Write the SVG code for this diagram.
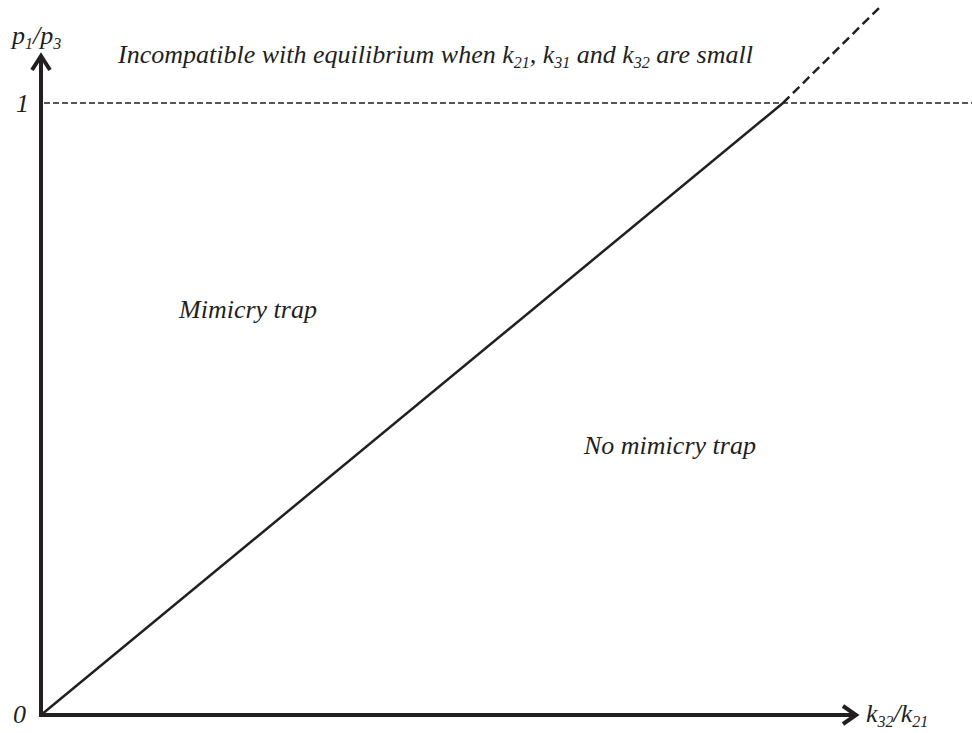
<svg xmlns="http://www.w3.org/2000/svg" width="972" height="733" viewBox="0 0 972 733">
<style>
text{font-family:"Liberation Serif","Times New Roman",serif;font-style:italic;fill:#231f20;font-size:26px}
.sub{font-size:16px}
.ax{stroke:#231f20;stroke-width:4;fill:none}
.ln{stroke:#231f20;stroke-width:2.5;fill:none}
.dash{stroke:#231f20;stroke-width:1.5;fill:none;stroke-dasharray:6 3}
.dash2{stroke:#231f20;stroke-width:2.5;fill:none;stroke-dasharray:9 5}
</style>
<rect width="972" height="733" fill="#fff"/>
<g id="connectors">
<line class="dash" x1="44" y1="103" x2="972" y2="103"/>
<line class="ln" x1="41" y1="715" x2="783" y2="103"/>
<line class="dash2" x1="783" y1="103" x2="880" y2="7"/>
</g>
<g id="y-axis">
<line class="ax" x1="41" y1="717" x2="41" y2="57"/>
<polyline class="ax" points="32,70 41,56 50,70"/>
<text x="12" y="44">p<tspan class="sub" dy="5">1</tspan><tspan dy="-5">/p</tspan><tspan class="sub" dy="5">3</tspan></text>
<text x="16" y="112">1</text>
<text x="13" y="723">0</text>
</g>
<g id="x-axis">
<line class="ax" x1="39" y1="715" x2="855" y2="715"/>
<polyline class="ax" points="843,706 856,715 843,724"/>
<text x="866" y="722">k<tspan class="sub" dy="5">32</tspan><tspan dy="-5">/k</tspan><tspan class="sub" dy="5">21</tspan></text>
</g>
<g id="label-top">
<text x="118" y="63">Incompatible with equilibrium when k<tspan class="sub" dy="5">21</tspan><tspan dy="-5">, k</tspan><tspan class="sub" dy="5">31</tspan><tspan dy="-5"> and k</tspan><tspan class="sub" dy="5">32</tspan><tspan dy="-5"> are small</tspan></text>
</g>
<g id="mimicry-trap"><text x="179" y="318">Mimicry trap</text></g>
<g id="no-mimicry-trap"><text x="584" y="454">No mimicry trap</text></g>
</svg>
